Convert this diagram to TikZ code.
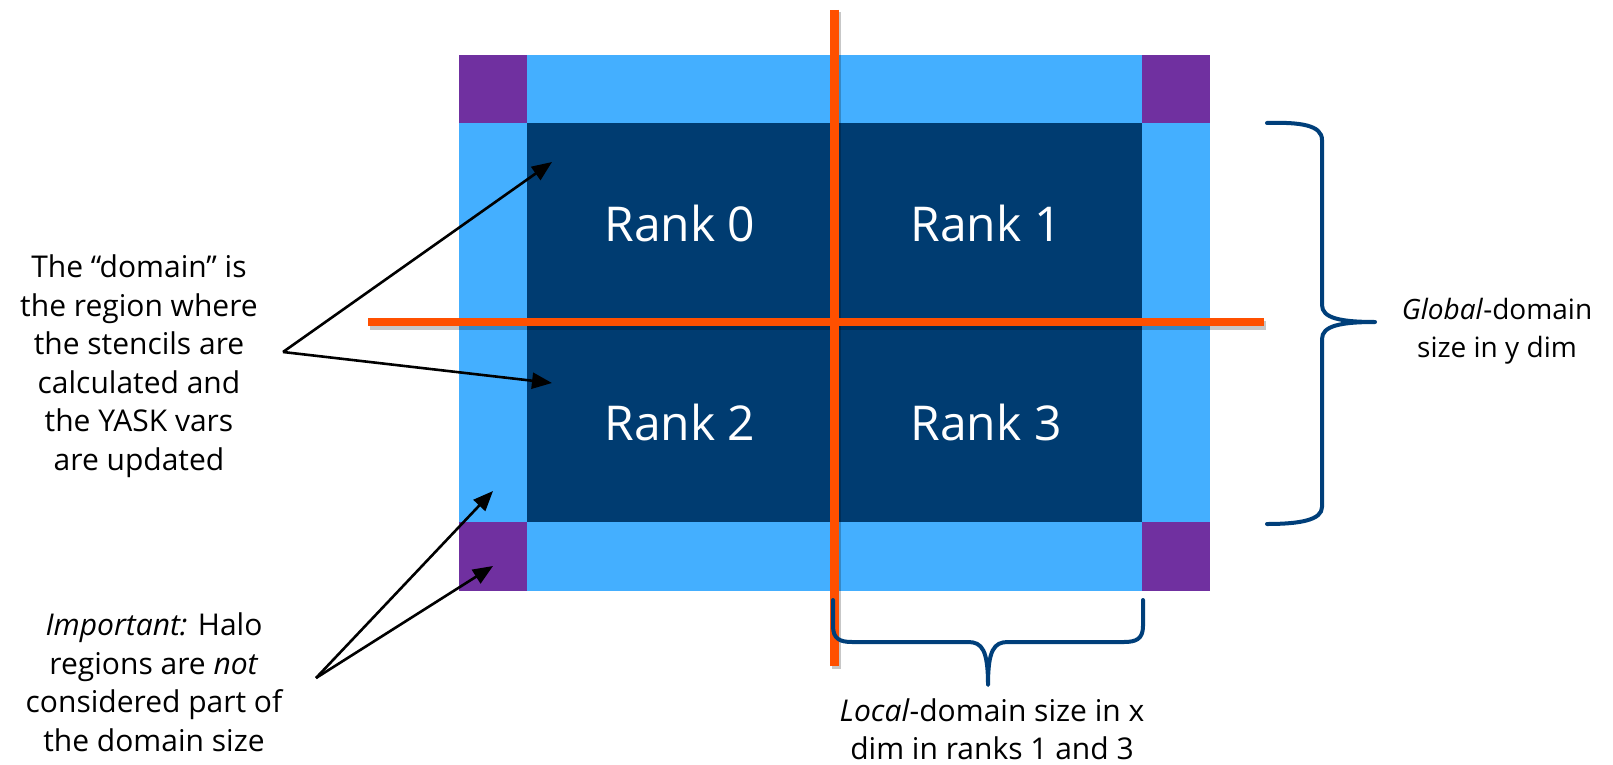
\documentclass[tikz,border=0pt]{standalone}
\usepackage{fontspec}
\setmainfont{Open Sans}
\usetikzlibrary{arrows.meta}
\definecolor{halo}{HTML}{7030A0}
\definecolor{pad}{HTML}{44AFFF}
\definecolor{core}{HTML}{003C71}
\definecolor{cut}{HTML}{FF5000}
\definecolor{brace}{HTML}{003F7A}
\tikzset{
  ranklbl/.style={text=white,font=\fontsize{48}{54}\selectfont},
  note/.style={align=center,inner sep=0pt,font=\fontsize{30}{38.5}\selectfont},
  pointer/.style={line width=2.6pt,-{Triangle[length=20pt,width=16pt]}},
  cutline/.style={cut,line width=8.5pt},
  cutshadow/.style={black,opacity=0.22,line width=9pt},
  bracket/.style={brace,line width=4pt,line cap=round,line join=round},
}
\begin{document}
\begin{tikzpicture}[x=1pt,y=-1pt]
\useasboundingbox (0,0) rectangle (1613,765);
% halo frame, padding bands and corner blocks
\fill[pad] (459,55) rectangle (1210,591);
\fill[halo] (459,55) rectangle (527,123);
\fill[halo] (1142,55) rectangle (1210,123);
\fill[halo] (459,522) rectangle (527,591);
\fill[halo] (1142,522) rectangle (1210,591);
\fill[core] (527,123) rectangle (1142,522);
% rank labels
\node[ranklbl] (r0) at (680,223) {Rank 0};
\node[ranklbl] (r1) at (986,223) {Rank 1};
\node[ranklbl] (r2) at (680,422) {Rank 2};
\node[ranklbl] (r3) at (986,422) {Rank 3};
% partition cuts with soft shadow
\draw[cutshadow] (836.5,12) -- (836.5,669);
\draw[cutshadow] (370,325) -- (1266,325);
\draw[cutline] (834.5,10) -- (834.5,666);
\draw[cutline] (368,322) -- (1264,322);
% braces
\draw[bracket] (1267,123) .. controls (1300,122) and (1322,125) .. (1322,140)
  -- (1322,305) .. controls (1322,318) and (1340,322) .. (1375,322)
  .. controls (1340,322) and (1322,326) .. (1322,339)
  -- (1322,507) .. controls (1322,520) and (1300,524) .. (1267,524);
\draw[bracket] (833,600) -- (833,626) .. controls (833,639) and (840,642) .. (852,642)
  -- (968,642) .. controls (982,642) and (988,650) .. (988,685)
  .. controls (988,650) and (994,642) .. (1008,642)
  -- (1124,642) .. controls (1136,642) and (1143,639) .. (1143,626) -- (1143,600);
% annotations
\node[note] (dom) at (139,366) {The “domain” is\\the region where\\the stencils are\\calculated and\\the YASK vars\\are updated};
\node[note] (imp) at (154,682) {\textit{Important:} Halo\\regions are \textit{not}\\considered part of\\the domain size};
\node[note,font=\fontsize{28}{38.5}\selectfont] (glob) at (1497,331) {\textit{Global}-domain\\size in y dim};
\node[note] (loc) at (992,729) {\textit{Local}-domain size in x\\dim in ranks 1 and 3};
% pointers
\coordinate (domfoot) at (283,352);
\coordinate (domtopcell) at (552,162);
\coordinate (dombotcell) at (552,383);
\coordinate (impfoot) at (316,678);
\coordinate (padcell) at (493,491);
\coordinate (halocell) at (493,566);
\draw[pointer] (domfoot) -- (domtopcell);
\draw[pointer] (domfoot) -- (dombotcell);
\draw[pointer] (impfoot) -- (padcell);
\draw[pointer] (impfoot) -- (halocell);
\end{tikzpicture}
\end{document}
